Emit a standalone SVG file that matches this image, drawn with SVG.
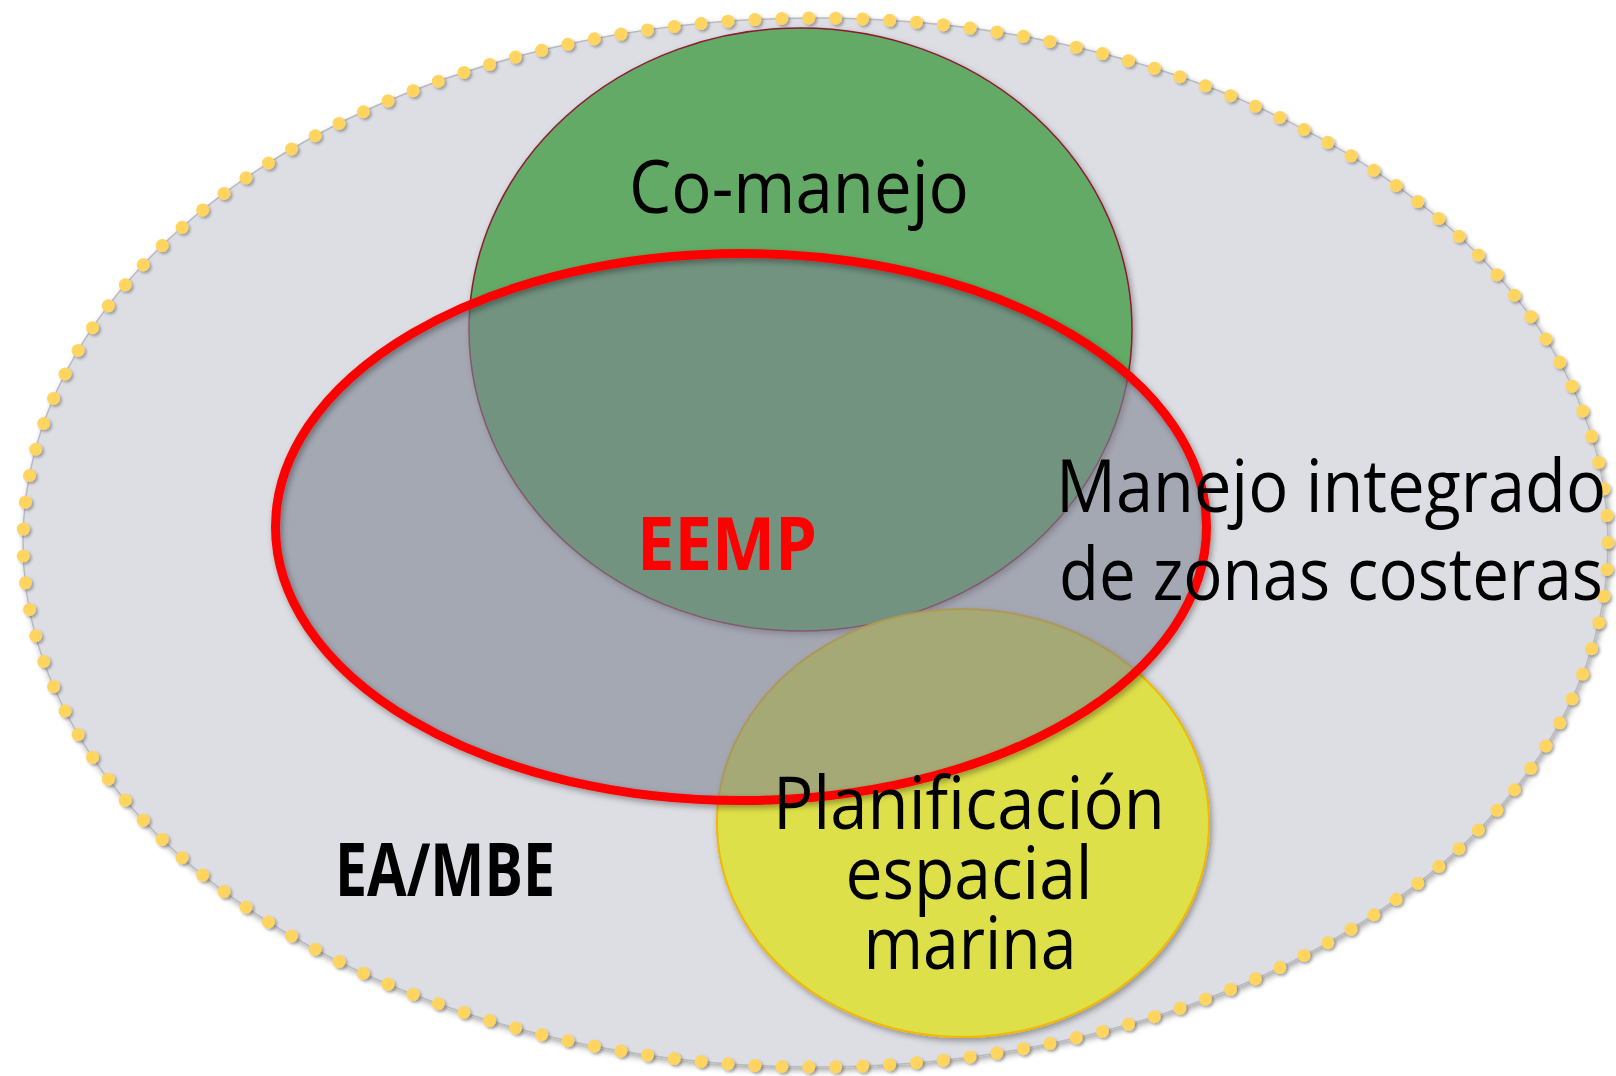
<svg xmlns="http://www.w3.org/2000/svg" width="1616" height="1076" viewBox="0 0 1616 1076">
  <defs>
    <filter id="sh" x="-10%" y="-10%" width="120%" height="120%">
      <feDropShadow dx="2" dy="3" stdDeviation="3" flood-color="#000" flood-opacity="0.35"/>
    </filter>
    <filter id="shs" x="-10%" y="-10%" width="120%" height="120%">
      <feDropShadow dx="2" dy="2" stdDeviation="1.5" flood-color="#000" flood-opacity="0.3"/>
    </filter>
    <style>
      .lbl { font-family: "Open Sans", "Noto Sans", "Liberation Sans", sans-serif; font-size: 74px; fill: #000; text-anchor: middle; }
      .bold { font-weight: bold; }
    </style>
  </defs>
  <rect width="1616" height="1076" fill="#ffffff"/>

  <g id="ea-mbe">
    <ellipse cx="815.5" cy="542.5" rx="792.5" ry="524.5" fill="#DDDEE3" stroke="#B9BAC0" stroke-width="1.5" filter="url(#sh)"/>
    <ellipse cx="815.5" cy="542.5" rx="792.5" ry="524.5" fill="none" stroke="#FFD45E" stroke-width="13" stroke-linecap="round" pathLength="155" stroke-dasharray="0 1" filter="url(#shs)"/>
    <text class="lbl bold" x="445" y="896" font-size="63" textLength="220" lengthAdjust="spacingAndGlyphs">EA/MBE</text>
  </g>

  <g id="co-manejo">
    <ellipse cx="800.5" cy="329.5" rx="331.5" ry="301.5" fill="#63AA66" stroke="#8B1A2E" stroke-width="1.5" filter="url(#sh)"/>
    <text class="lbl" x="799" y="213" textLength="340" lengthAdjust="spacingAndGlyphs">Co-manejo</text>
  </g>

  <g id="planificacion">
    <ellipse cx="963" cy="823" rx="246" ry="214" fill="#DEE048" stroke="#F2B705" stroke-width="2" filter="url(#sh)"/>
  </g>

  <g id="eemp">
    <ellipse cx="741" cy="527" rx="465.5" ry="273.5" fill="#7E8392" fill-opacity="0.6" stroke="none"/>
    <ellipse cx="741" cy="527" rx="465.5" ry="273.5" fill="none" stroke="#FF0000" stroke-width="9" filter="url(#sh)"/>
    <text class="lbl bold" x="727" y="570" style="fill:#FF0000" textLength="180" lengthAdjust="spacingAndGlyphs">EEMP</text>
  </g>

  <g id="planificacion-label">
    <text class="lbl" x="969" y="829" textLength="392" lengthAdjust="spacingAndGlyphs">Planificación</text>
    <text class="lbl" x="969" y="899" textLength="247" lengthAdjust="spacingAndGlyphs">espacial</text>
    <text class="lbl" x="970" y="969" textLength="213" lengthAdjust="spacingAndGlyphs">marina</text>
  </g>

  <g id="mizc">
    <text class="lbl" x="1331" y="512" textLength="550" lengthAdjust="spacingAndGlyphs">Manejo integrado</text>
    <text class="lbl" x="1331" y="600" textLength="544" lengthAdjust="spacingAndGlyphs">de zonas costeras</text>
  </g>

  <g id="connectors"></g>
</svg>
